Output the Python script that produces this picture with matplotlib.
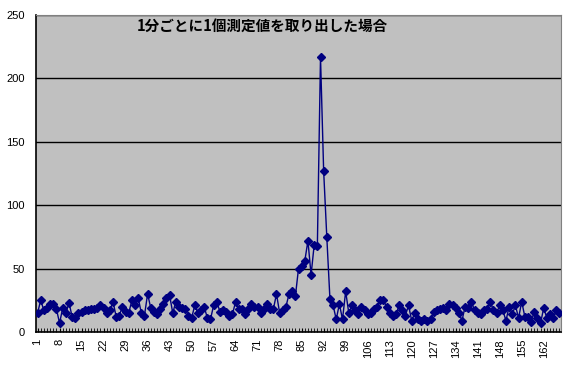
import numpy as np
import matplotlib.pyplot as plt

plt.rcParams['font.family'] = ['Liberation Sans', 'Noto Sans CJK JP', 'DejaVu Sans']

# measured value taken once per minute (index 1..167)
values = [
    15, 25, 17, 19, 22, 22, 18, 7, 19, 15,
    23, 12, 11, 15, 16, 17, 17, 18, 18, 19,
    21, 19, 15, 17, 24, 12, 13, 20, 16, 15,
    25, 21, 27, 15, 13, 30, 19, 16, 14, 18,
    22, 27, 29, 15, 24, 20, 19, 18, 13, 11,
    21, 15, 17, 20, 11, 10, 21, 24, 16, 17,
    16, 13, 14, 24, 18, 18, 14, 18, 22, 20,
    20, 15, 18, 22, 18, 18, 30, 15, 17, 20,
    30, 32, 28, 50, 52, 56, 72, 45, 69, 68,
    217, 127, 75, 26, 21, 10, 22, 10, 32, 15,
    21, 17, 14, 20, 17, 14, 15, 18, 20, 25,
    25, 20, 15, 13, 14, 21, 17, 13, 21, 9,
    15, 10, 9, 10, 9, 10, 16, 17, 18, 19,
    17, 22, 21, 19, 15, 9, 20, 19, 24, 17,
    15, 14, 17, 18, 24, 17, 15, 21, 17, 9,
    20, 14, 21, 11, 24, 12, 12, 8, 16, 11,
    7, 19, 11, 14, 11, 17, 15,
]
minutes = np.arange(1, len(values) + 1)
tick_labels = minutes[::7]
title = '1分ごとに1個測定値を取り出した場合'

fig = plt.figure(figsize=(5.66, 3.69), dpi=100)
ax = fig.add_axes([36/566, 1 - 332/369, 525/566, 317/369])
ax.set_facecolor('#C0C0C0')

ax.plot(minutes, values, color='#000080', linewidth=1.0,
        marker='D', markersize=4.5, markerfacecolor='#000080',
        markeredgecolor='#000080', zorder=3)

ax.set_xlim(0.5, len(values) + 0.5)
ax.set_ylim(0, 250)
ax.set_yticks(np.arange(0, 251, 50))
ax.yaxis.grid(True, color='black', linewidth=1.0)
ax.set_axisbelow(True)
ax.tick_params(axis='y', length=0, labelsize=8, pad=8)

ax.set_xticks(minutes, minor=True)
ax.set_xticks(tick_labels)
ax.set_xticklabels([str(t) for t in tick_labels], rotation=90)
ax.tick_params(axis='x', which='both', direction='in', length=3,
               labelsize=8, pad=5)
ax.tick_params(axis='x', which='major', length=3)

for side in ['top', 'right']:
    ax.spines[side].set_color('#808080')
for side in ['left', 'bottom']:
    ax.spines[side].set_color('black')
    ax.spines[side].set_linewidth(1.2)

fig.text(262/566, 1 - 26/369, title, ha='center', va='center',
         fontsize=10.5, fontweight='bold',
         family=['Noto Sans CJK JP', 'DejaVu Sans'])

fig.savefig('out.png', dpi=100, facecolor='white')
